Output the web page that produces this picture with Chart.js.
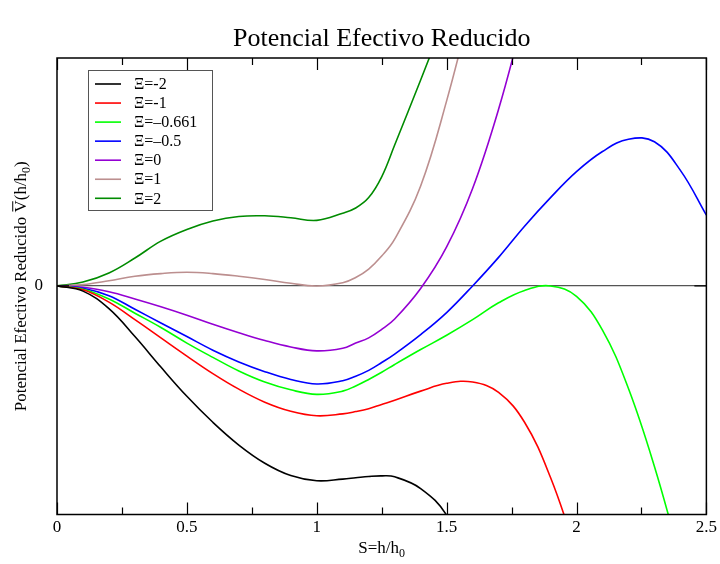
<!DOCTYPE html>
<html>
<head>
<meta charset="utf-8">
<script src="https://cdn.jsdelivr.net/npm/chart.js@4.4.0/dist/chart.umd.min.js"></script>
<style>
  html, body { margin: 0; padding: 0; background: #fff; }
  #wrap { width: 720px; height: 564px; }
</style>
</head>
<body>
<div id="wrap"><canvas id="potChart"></canvas></div>
<script>
// ----- DATA -----
const sVals = [0, 0.1, 0.2, 0.3, 0.4, 0.5, 0.6, 0.7, 0.8, 0.9, 1.0, 1.1, 1.15, 1.2, 1.25,
               1.3, 1.4, 1.5, 1.6, 1.7, 1.8, 1.9, 2.0, 2.1, 2.2, 2.3, 2.4, 2.5];
const xiLabels = ['\u039E=-2', '\u039E=-1', '\u039E=\u20130.661', '\u039E=\u20130.5', '\u039E=0', '\u039E=1', '\u039E=2'];
const lineColors = ['#000000', '#ff0000', '#00ff00', '#0000ff', '#9400d3', '#bc8f8f', '#008b00'];

// reduced potential, one list per Xi value (arbitrary units, indexed like sVals)
const vXiM2   = [0, -0.08, -0.35, -0.78, -1.25, -1.7, -2.1, -2.45, -2.73, -2.92, -3.0, -2.975, -2.955, -2.935, -2.925, -2.94, -3.12, -3.53, -4.4];
const vXiM1   = [0, -0.06, -0.25, -0.52, -0.8, -1.08, -1.35, -1.59, -1.79, -1.93, -2.0, -1.97, -1.935, -1.89, -1.825, -1.76, -1.62, -1.5, -1.48, -1.64, -2.1, -2.95, -4.1];
const vXiM066 = [0, -0.05, -0.2, -0.42, -0.64, -0.88, -1.1, -1.31, -1.48, -1.6, -1.67, -1.62, -1.54, -1.44, -1.33, -1.21, -0.98, -0.76, -0.52, -0.26, -0.07, 0.0, -0.16, -0.68, -1.58, -2.78, -4.2];
const vXiM05  = [0, -0.035, -0.15, -0.36, -0.57, -0.78, -0.99, -1.17, -1.32, -1.44, -1.51, -1.46, -1.39, -1.3, -1.18, -1.05, -0.75, -0.41, 0.0, 0.44, 0.92, 1.36, 1.76, 2.07, 2.26, 2.22, 1.78, 1.09];
const vXi0    = [0, -0.02, -0.09, -0.2, -0.32, -0.45, -0.59, -0.72, -0.84, -0.94, -1.0, -0.96, -0.88, -0.8, -0.67, -0.51, -0.04, 0.6, 1.5, 2.72, 4.2];
const vXi1    = [0, 0.02, 0.08, 0.15, 0.19, 0.21, 0.19, 0.15, 0.1, 0.04, 0.0, 0.05, 0.13, 0.26, 0.46, 0.72, 1.54, 2.85, 4.4];
const vXi2    = [0, 0.06, 0.2, 0.43, 0.69, 0.87, 1.0, 1.07, 1.08, 1.05, 1.01, 1.12, 1.2, 1.36, 1.68, 2.17, 3.17, 4.2];

const xTickVals = [0, 0.5, 1, 1.5, 2, 2.5];
const yTickVals = [0];

const allSeries = [vXiM2, vXiM1, vXiM066, vXiM05, vXi0, vXi1, vXi2];
const SERIF = "'Liberation Serif', 'DejaVu Serif', serif";

function toPoints(vals) {
    return vals.map((v, i) => ({ x: sVals[i], y: v }));
}

const datasets = allSeries.map((vals, i) => ({
    label: xiLabels[i],
    data: toPoints(vals),
    borderColor: lineColors[i],
    backgroundColor: lineColors[i],
    borderWidth: 1.6,
    pointRadius: 0,
    tension: 0.4,
    fill: false,
    clip: 0
}));

// draws main text + subscript + tail centred at (cx, by); optional overline on the V
function drawWithSub(ctx, main, sub, tail, cx, by, size, subSize, overV) {
    ctx.font = size + 'px ' + SERIF;
    const w1 = ctx.measureText(main).width;
    const w3 = ctx.measureText(tail).width;
    ctx.font = subSize + 'px ' + SERIF;
    const w2 = ctx.measureText(sub).width;
    let x = cx - (w1 + w2 + w3) / 2;
    ctx.textAlign = 'left';
    ctx.textBaseline = 'alphabetic';
    ctx.fillStyle = '#000';
    ctx.font = size + 'px ' + SERIF;
    ctx.fillText(main, x, by);
    if (overV) {
        const k = main.indexOf('V(');
        const vx = x + ctx.measureText(main.slice(0, k)).width;
        const vw = ctx.measureText('V').width;
        ctx.strokeStyle = '#000';
        ctx.lineWidth = 1;
        ctx.beginPath();
        ctx.moveTo(vx + 1, by - size * 0.78);
        ctx.lineTo(vx + vw - 1, by - size * 0.78);
        ctx.stroke();
    }
    x += w1;
    ctx.font = subSize + 'px ' + SERIF;
    ctx.fillText(sub, x, by + 4);
    x += w2;
    ctx.font = size + 'px ' + SERIF;
    ctx.fillText(tail, x, by);
}

// ----- frame, inward ticks, legend box, titles -----
const decorPlugin = {
    id: 'decor',
    afterDraw(chart) {
        const ctx = chart.ctx;
        const a = chart.chartArea;
        const xs = chart.scales.x, ys = chart.scales.y;
        ctx.save();

        // frame
        ctx.strokeStyle = '#000';
        ctx.lineWidth = 1.5;
        ctx.strokeRect(a.left, a.top, a.right - a.left, a.bottom - a.top);

        // inward ticks on bottom and top
        ctx.lineWidth = 1.2;
        for (let v = 0; v <= 2.5001; v += 0.25) {
            const px = Math.round(xs.getPixelForValue(v)) + 0.5;
            const major = Math.abs(v * 2 - Math.round(v * 2)) < 1e-6;
            const len = major ? 12 : 7;
            ctx.beginPath();
            ctx.moveTo(px, a.bottom); ctx.lineTo(px, a.bottom - len);
            ctx.moveTo(px, a.top); ctx.lineTo(px, a.top + len);
            ctx.stroke();
        }
        // ticks at y = 0 on left and right
        const py0 = ys.getPixelForValue(0);
        ctx.beginPath();
        ctx.moveTo(a.left, py0); ctx.lineTo(a.left + 12, py0);
        ctx.moveTo(a.right, py0); ctx.lineTo(a.right - 12, py0);
        ctx.stroke();

        // legend box
        const lx = 88, ly = 70, lw = 124, lh = 140;
        ctx.fillStyle = '#fff';
        ctx.fillRect(lx, ly, lw, lh);
        ctx.strokeStyle = '#555';
        ctx.lineWidth = 1;
        ctx.strokeRect(lx + 0.5, ly + 0.5, lw, lh);
        ctx.font = '16px ' + SERIF;
        ctx.textBaseline = 'middle';
        ctx.textAlign = 'left';
        chart.data.datasets.forEach((ds, i) => {
            const yy = 84 + i * 19.05;
            ctx.strokeStyle = ds.borderColor;
            ctx.lineWidth = 1.6;
            ctx.beginPath();
            ctx.moveTo(95, yy); ctx.lineTo(121, yy);
            ctx.stroke();
            ctx.fillStyle = '#000';
            ctx.fillText(ds.label, 134, yy + 1);
        });

        // main title
        ctx.fillStyle = '#000';
        ctx.textAlign = 'center';
        ctx.textBaseline = 'alphabetic';
        ctx.font = '26px ' + SERIF;
        ctx.fillText('Potencial Efectivo Reducido', (a.left + a.right) / 2, 46);

        // x axis title with subscript
        drawWithSub(ctx, 'S=h/h', '0', '', (a.left + a.right) / 2, 553, 17, 12);

        // y axis title, rotated
        ctx.save();
        ctx.translate(26, (a.top + a.bottom) / 2);
        ctx.rotate(-Math.PI / 2);
        drawWithSub(ctx, 'Potencial Efectivo Reducido V(h/h', '0', ')', 0, 0, 17, 12, true);
        ctx.restore();

        ctx.restore();
    }
};

new Chart(document.getElementById('potChart'), {
    type: 'line',
    data: { datasets: datasets },
    options: {
        responsive: true,
        maintainAspectRatio: false,
        animation: false,
        layout: { padding: { top: 58, right: 12, left: 0, bottom: 0 } },
        plugins: { legend: { display: false }, tooltip: { enabled: false }, title: { display: false } },
        scales: {
            x: {
                type: 'linear',
                min: 0,
                max: 2.5,
                afterBuildTicks: (scale) => { scale.ticks = xTickVals.map(v => ({ value: v })); },
                afterFit: (scale) => { scale.height = 49.5; },
                ticks: {
                    color: '#000',
                    font: { family: SERIF, size: 17 },
                    padding: 3,
                    maxRotation: 0,
                    callback: (v) => String(v)
                },
                grid: { display: false, drawTicks: false },
                border: { display: false }
            },
            y: {
                min: -3.52,
                max: 3.51,
                afterBuildTicks: (scale) => { scale.ticks = yTickVals.map(v => ({ value: v })); },
                afterFit: (scale) => { scale.width = 57; },
                ticks: {
                    color: '#000',
                    font: { family: SERIF, size: 17 },
                    padding: 14,
                    callback: (v) => String(v)
                },
                grid: { color: '#555', lineWidth: 1.3, drawTicks: false },
                border: { display: false }
            }
        }
    },
    plugins: [decorPlugin]
});
</script>
</body>
</html>
